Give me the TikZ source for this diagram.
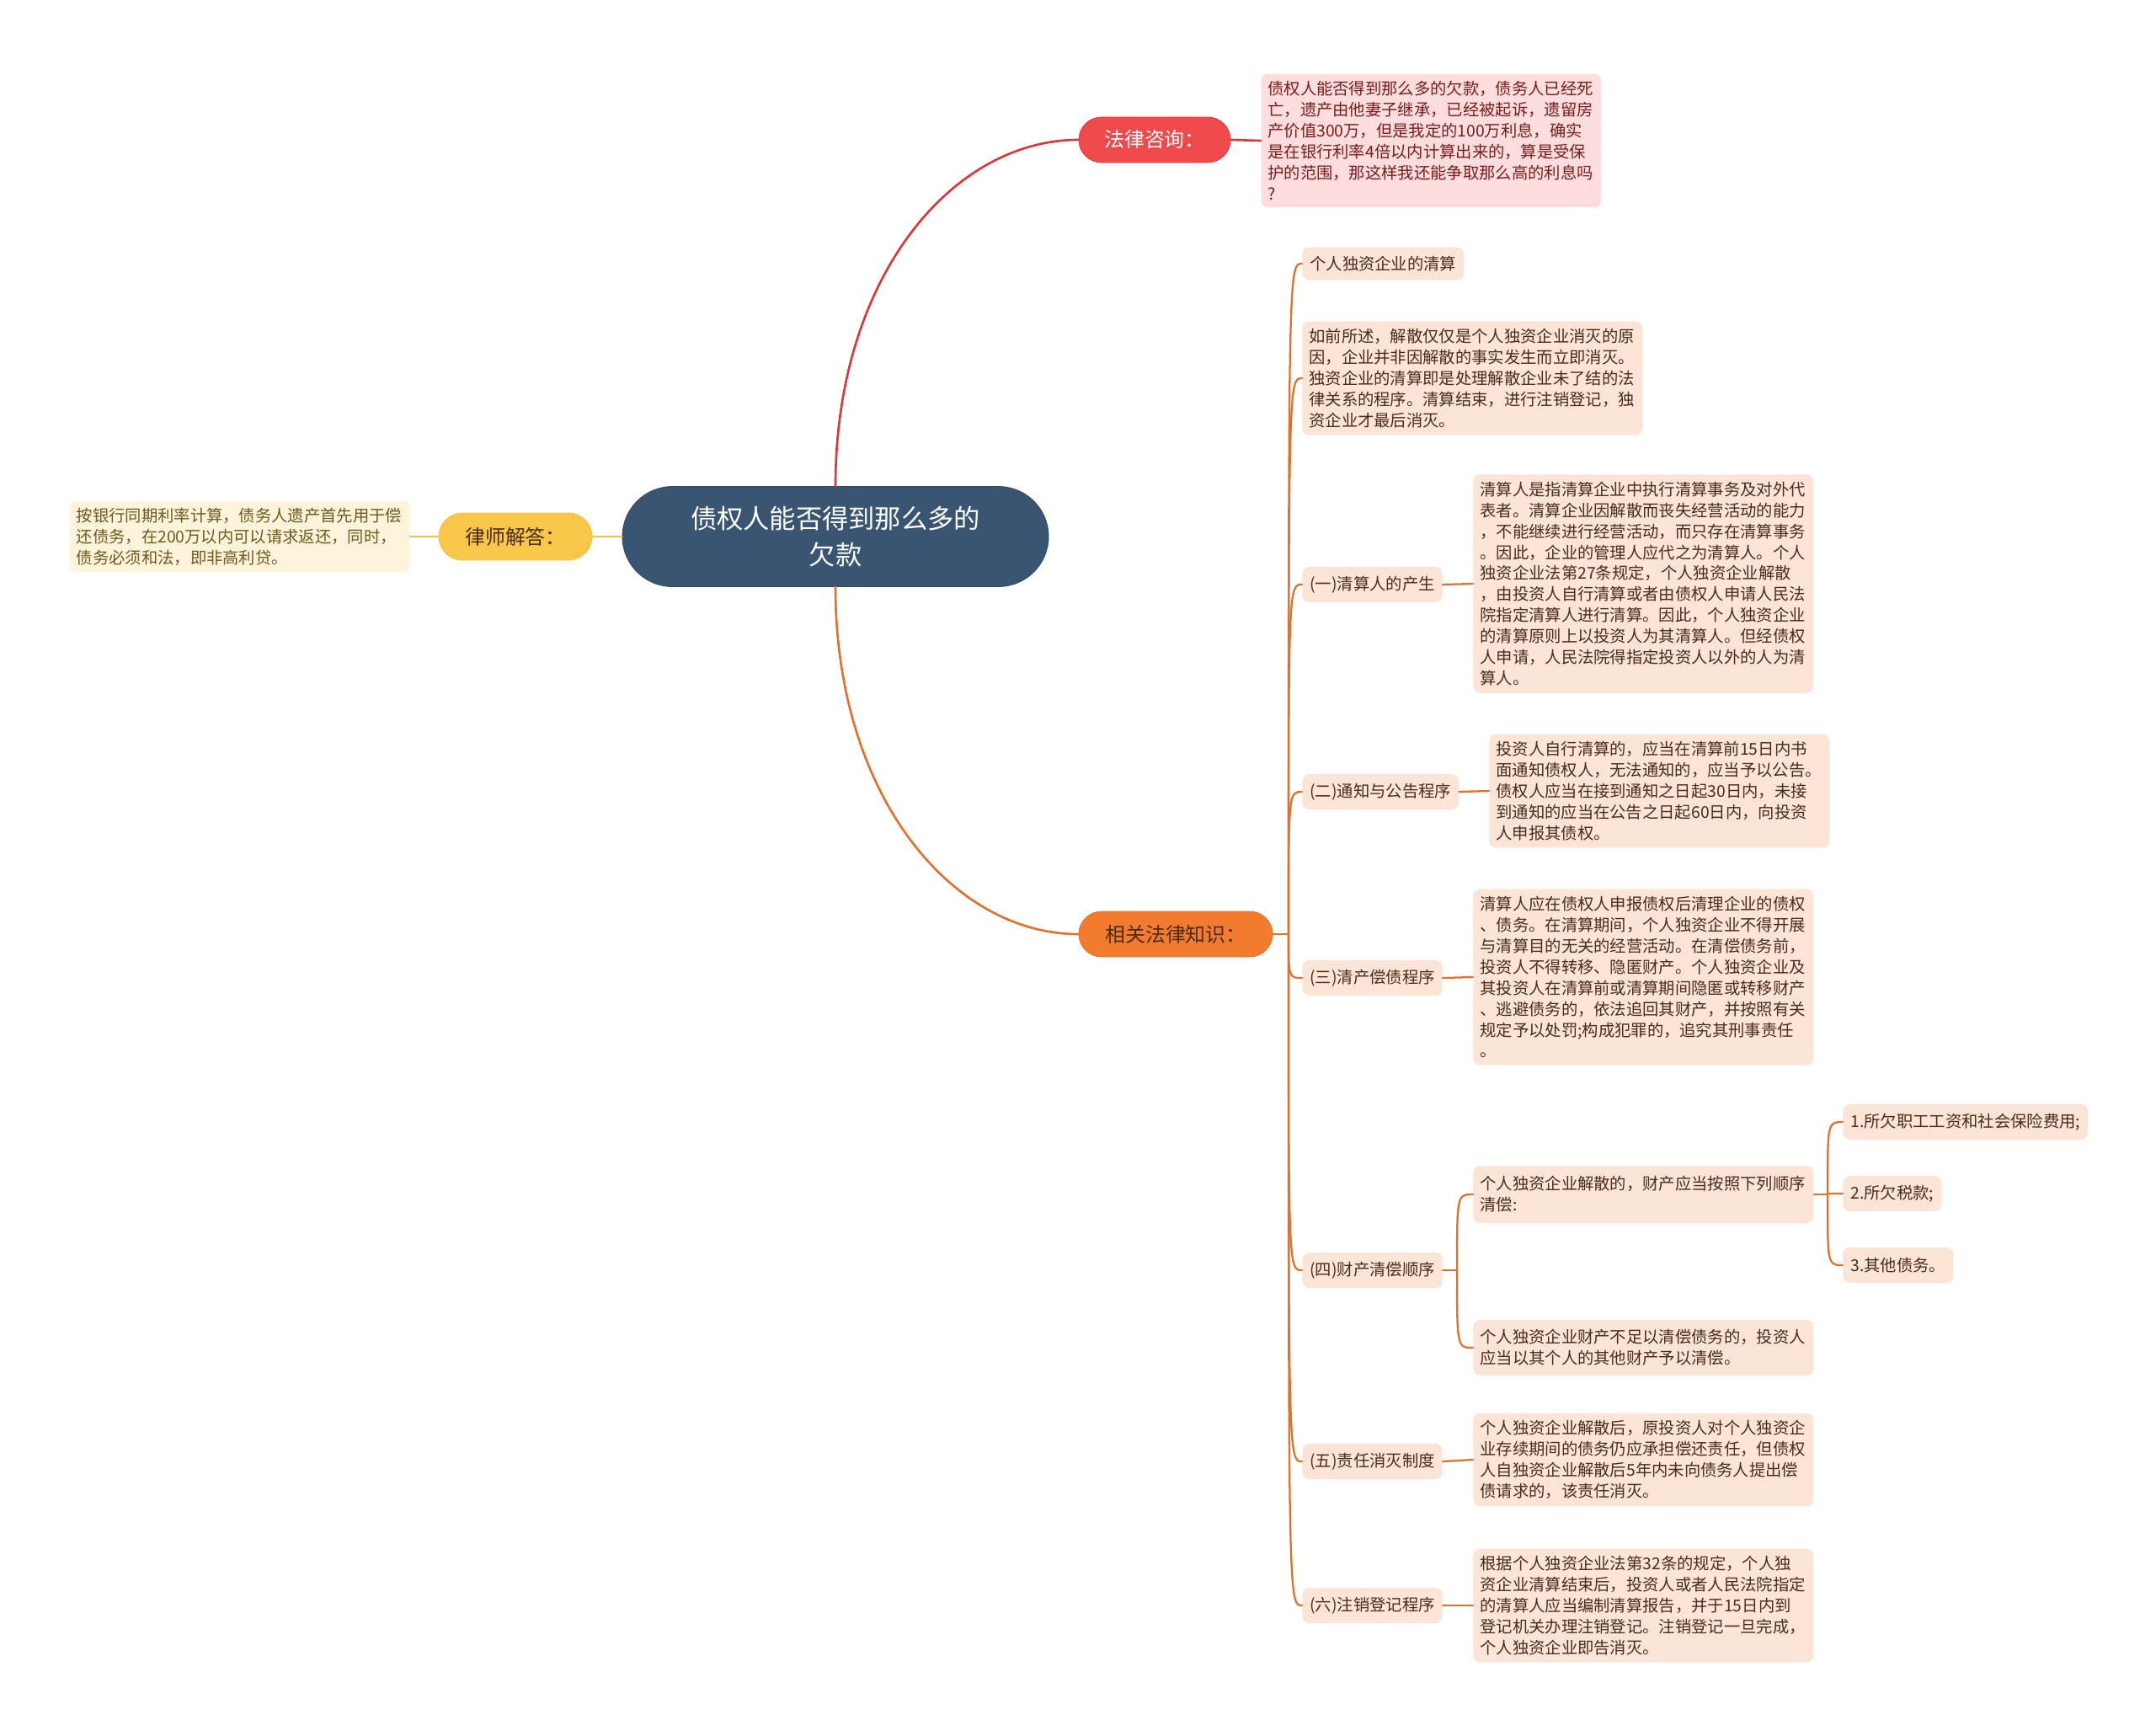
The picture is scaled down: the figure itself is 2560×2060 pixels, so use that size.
\documentclass[tikz,border=0pt]{standalone}
\usepackage{fontspec}
\setmainfont{Noto Sans CJK SC}
\usetikzlibrary{shapes.misc}
\definecolor{rootblue}{HTML}{3A5571}
\definecolor{askred}{HTML}{EF4B4D}
\definecolor{askline}{HTML}{D9383A}
\definecolor{askfill}{HTML}{FDDDDD}
\definecolor{asktext}{HTML}{7A1C1C}
\definecolor{laworange}{HTML}{F27B2F}
\definecolor{lawline}{HTML}{E0722E}
\definecolor{peach}{HTML}{FCE4D6}
\definecolor{peachtext}{HTML}{4B2B1A}
\definecolor{ansyellow}{HTML}{F8C649}
\definecolor{ansline}{HTML}{F1C14A}
\definecolor{ansfill}{HTML}{FEF4DC}
\definecolor{anstext}{HTML}{6E5A1E}

\begin{document}
\begin{tikzpicture}[x=0.02cm,y=-0.02cm,line cap=round,
  font=\fontsize{11pt}{14.2pt}\selectfont,
  topic/.style={rounded rectangle,fill=rootblue,draw=rootblue!85!black,text=white,align=center,
    minimum width=10.36cm,minimum height=2.38cm,font=\fontsize{17.8pt}{24.5pt}\selectfont},
  mainbox/.style={rounded rectangle,minimum height=1.08cm,font=\fontsize{13.6pt}{16pt}\selectfont},
  leaf/.style={rounded corners=0.16cm,inner xsep=0.16cm,inner ysep=0.17cm,align=left,text width=7.76cm},
  tag/.style={rounded corners=0.16cm,inner xsep=0.18cm,minimum height=0.84cm,fill=peach,text=peachtext},
  know/.style={leaf,fill=peach,text=peachtext},
  branch/.style={draw=lawline,line width=1.3pt},
]
\useasboundingbox (0,0) rectangle (2560,2060);

\node[topic] (root) at (992,637) {债权人能否得到那么多的\\欠款};

\node[mainbox,fill=askred,draw=askline,text=white,minimum width=3.84cm] (ask) at (1371,166) {法律咨询：};
\node[leaf,fill=askfill,text=asktext,anchor=west] (question) at (1497,167)
  {债权人能否得到那么多的欠款，债务人已经死\\亡，遗产由他妻子继承，已经被起诉，遗留房\\产价值300万，但是我定的100万利息，确实\\是在银行利率4倍以内计算出来的，算是受保\\护的范围，那这样我还能争取那么高的利息吗\\?};

\node[mainbox,fill=ansyellow,draw=ansline,text=peachtext,minimum width=3.88cm,minimum height=1.12cm] (lawyer) at (612,637) {律师解答：};
\node[leaf,fill=ansfill,text=anstext,anchor=east] (answer) at (487,637)
  {按银行同期利率计算，债务人遗产首先用于偿\\还债务，在200万以内可以请求返还，同时，\\债务必须和法，即非高利贷。};

\node[mainbox,fill=laworange,draw=lawline,text=peachtext,minimum width=4.84cm] (rel) at (1396,1109) {相关法律知识：};

\node[tag,anchor=west,minimum height=0.78cm] (c1) at (1546,313) {个人独资企业的清算};
\node[know,anchor=west] (c2) at (1546,449)
  {如前所述，解散仅仅是个人独资企业消灭的原\\因，企业并非因解散的事实发生而立即消灭。\\独资企业的清算即是处理解散企业未了结的法\\律关系的程序。清算结束，进行注销登记，独\\资企业才最后消灭。};

\node[tag,anchor=west] (c3) at (1546,694) {(一)清算人的产生};
\node[know,anchor=west] (c3t) at (1749,693)
  {清算人是指清算企业中执行清算事务及对外代\\表者。清算企业因解散而丧失经营活动的能力\\，不能继续进行经营活动，而只存在清算事务\\。因此，企业的管理人应代之为清算人。个人\\独资企业法第27条规定，个人独资企业解散\\，由投资人自行清算或者由债权人申请人民法\\院指定清算人进行清算。因此，个人独资企业\\的清算原则上以投资人为其清算人。但经债权\\人申请，人民法院得指定投资人以外的人为清\\算人。};

\node[tag,anchor=west] (c4) at (1546,940) {(二)通知与公告程序};
\node[know,anchor=west] (c4t) at (1768,939)
  {投资人自行清算的，应当在清算前15日内书\\面通知债权人，无法通知的，应当予以公告。\\债权人应当在接到通知之日起30日内，未接\\到通知的应当在公告之日起60日内，向投资\\人申报其债权。};

\node[tag,anchor=west] (c5) at (1546,1161) {(三)清产偿债程序};
\node[know,anchor=west] (c5t) at (1749,1160)
  {清算人应在债权人申报债权后清理企业的债权\\、债务。在清算期间，个人独资企业不得开展\\与清算目的无关的经营活动。在清偿债务前，\\投资人不得转移、隐匿财产。个人独资企业及\\其投资人在清算前或清算期间隐匿或转移财产\\、逃避债务的，依法追回其财产，并按照有关\\规定予以处罚;构成犯罪的，追究其刑事责任\\。};

\node[tag,anchor=west] (c6) at (1546,1508) {(四)财产清偿顺序};
\node[know,anchor=west,minimum height=1.36cm] (pa) at (1749,1418)
  {个人独资企业解散的，财产应当按照下列顺序\\清偿:};
\node[know,anchor=west,minimum height=1.32cm] (pb) at (1749,1600)
  {个人独资企业财产不足以清偿债务的，投资人\\应当以其个人的其他财产予以清偿。};
\node[tag,anchor=west] (g1) at (2188,1332) {1.所欠职工工资和社会保险费用;};
\node[tag,anchor=west] (g2) at (2188,1417) {2.所欠税款;};
\node[tag,anchor=west] (g3) at (2188,1502) {3.其他债务。};

\node[tag,anchor=west] (c7) at (1546,1735) {(五)责任消灭制度};
\node[know,anchor=west] (c7t) at (1749,1733)
  {个人独资企业解散后，原投资人对个人独资企\\业存续期间的债务仍应承担偿还责任，但债权\\人自独资企业解散后5年内未向债务人提出偿\\债请求的，该责任消灭。};

\node[tag,anchor=west] (c8) at (1546,1906) {(六)注销登记程序};
\node[know,anchor=west] (c8t) at (1749,1906)
  {根据个人独资企业法第32条的规定，个人独\\资企业清算结束后，投资人或者人民法院指定\\的清算人应当编制清算报告，并于15日内到\\登记机关办理注销登记。注销登记一旦完成，\\个人独资企业即告消灭。};

\draw[askline,line width=1.5pt] (root.north) .. controls (992,330) and (1130,166) .. (ask.west);
\draw[askline,line width=1.5pt] (ask.east) -- (question.west);
\draw[lawline,line width=1.5pt] (root.south) .. controls (992,944) and (1130,1109) .. (rel.west);
\draw[ansline,line width=1.5pt] (root.west) -- (lawyer.east);
\draw[ansline,line width=1.5pt] (lawyer.west) -- (answer.east);

\coordinate (relfork) at (1530,1109);
\draw[branch] (rel.east) -- (relfork);
\foreach \n in {c1,c2,c3,c4,c5,c6,c7,c8}
  \draw[branch] (relfork) .. controls (relfork |- \n.west) .. (\n.west);
\foreach \n in {c3,c4,c5,c7,c8}
  \draw[branch] (\n.east) -- (\n t.west);

\coordinate (payfork) at (1730,1508);
\draw[branch] (c6.east) -- (payfork);
\foreach \n in {pa,pb}
  \draw[branch] (payfork) .. controls (payfork |- \n.west) .. (\n.west);

\coordinate (orderfork) at (2170,1418);
\draw[branch] (pa.east) -- (orderfork);
\foreach \n in {g1,g2,g3}
  \draw[branch] (orderfork) .. controls (orderfork |- \n.west) .. (\n.west);
\end{tikzpicture}
\end{document}
